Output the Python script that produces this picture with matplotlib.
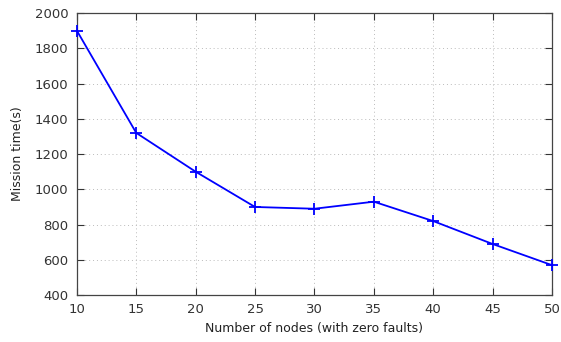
import matplotlib as mpl
mpl.use("Agg")
import matplotlib.pyplot as plt

nodes = [10, 15, 20, 25, 30, 35, 40, 45, 50]
mission_time = [1900, 1320, 1100, 900, 890, 930, 820, 690, 570]
y_ticks = [400, 600, 800, 1000, 1200, 1400, 1600, 1800, 2000]

fig = plt.figure(figsize=(5.61, 3.42), dpi=100)
ax = fig.add_axes([0.137, 0.137, 0.847, 0.825])

ax.plot(nodes, mission_time, color="#0000ff", linewidth=1.3,
        marker="+", markersize=9, markeredgewidth=1.3, clip_on=False, zorder=5)

ax.set_xlim(10, 50)
ax.set_ylim(400, 2000)
ax.set_xticks(nodes)
ax.set_yticks(y_ticks)
ax.grid(True, linestyle=(0, (1, 3)), color="#bbbbbb", linewidth=0.7)
ax.tick_params(direction="in", top=True, right=True, length=5, width=0.8,
               labelsize=9.5, colors="#333333", pad=6)
for s in ax.spines.values():
    s.set_color("#444444")
    s.set_linewidth(0.9)

ax.set_xlabel("Number of nodes (with zero faults)", fontsize=9, color="#222222")
ax.set_ylabel("Mission time(s)", fontsize=9, color="#222222", labelpad=8)

fig.savefig("out.png", dpi=100)
